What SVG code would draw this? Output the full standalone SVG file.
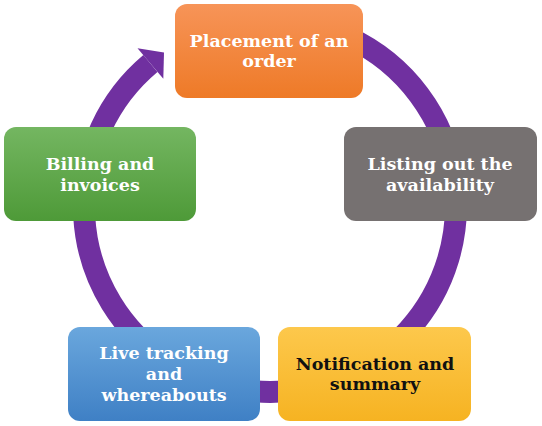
<svg xmlns="http://www.w3.org/2000/svg" width="542" height="426" viewBox="0 0 542 426">
<style>
.box{stroke:none}
.t{font-family:"DejaVu Serif","Liberation Serif",serif;font-weight:bold;font-size:17.5px;text-anchor:middle}
.w{fill:#ffffff}
.k{fill:#111111}
</style>
<defs>
<linearGradient id="gO" x1="0" y1="0" x2="0" y2="1"><stop offset="0" stop-color="#F79458"/><stop offset="1" stop-color="#EE7A27"/></linearGradient>
<linearGradient id="gG" x1="0" y1="0" x2="0" y2="1"><stop offset="0" stop-color="#74B661"/><stop offset="1" stop-color="#4E9A38"/></linearGradient>
<linearGradient id="gY" x1="0" y1="0" x2="0" y2="1"><stop offset="0" stop-color="#FDC84C"/><stop offset="1" stop-color="#F6B322"/></linearGradient>
<linearGradient id="gB" x1="0" y1="0" x2="0" y2="1"><stop offset="0" stop-color="#6AA7DD"/><stop offset="1" stop-color="#3F80C5"/></linearGradient>
</defs>
<rect width="542" height="426" fill="#ffffff"/>
<g id="connectors">
<path d="M 270 20 A 186 186 0 1 1 150.4 63.5" fill="none" stroke="#7030A0" stroke-width="22"/>
<polygon points="137.5,48.2 164,52.5 163.3,78.8" fill="#7030A0"/>
</g>
<g id="n1"><rect class="box" x="175" y="4" width="188" height="94" rx="12" fill="url(#gO)"/>
<text class="t w" x="269" y="47">Placement of an</text><text class="t w" x="269" y="67">order</text></g>
<g id="n2"><rect class="box" x="344" y="127" width="193" height="94" rx="12" fill="#767171"/>
<text class="t w" x="440" y="170">Listing out the</text><text class="t w" x="440" y="191">availability</text></g>
<g id="n3"><rect class="box" x="278" y="327" width="193" height="94" rx="12" fill="url(#gY)"/>
<text class="t k" x="375" y="370">Notification and</text><text class="t k" x="375" y="390">summary</text></g>
<g id="n4"><rect class="box" x="68" y="327" width="192" height="94" rx="12" fill="url(#gB)"/>
<text class="t w" x="164" y="359">Live tracking</text><text class="t w" x="164" y="380">and</text><text class="t w" x="164" y="401">whereabouts</text></g>
<g id="n5"><rect class="box" x="4" y="127" width="192" height="94" rx="12" fill="url(#gG)"/>
<text class="t w" x="100" y="170">Billing and</text><text class="t w" x="100" y="191">invoices</text></g>
</svg>
